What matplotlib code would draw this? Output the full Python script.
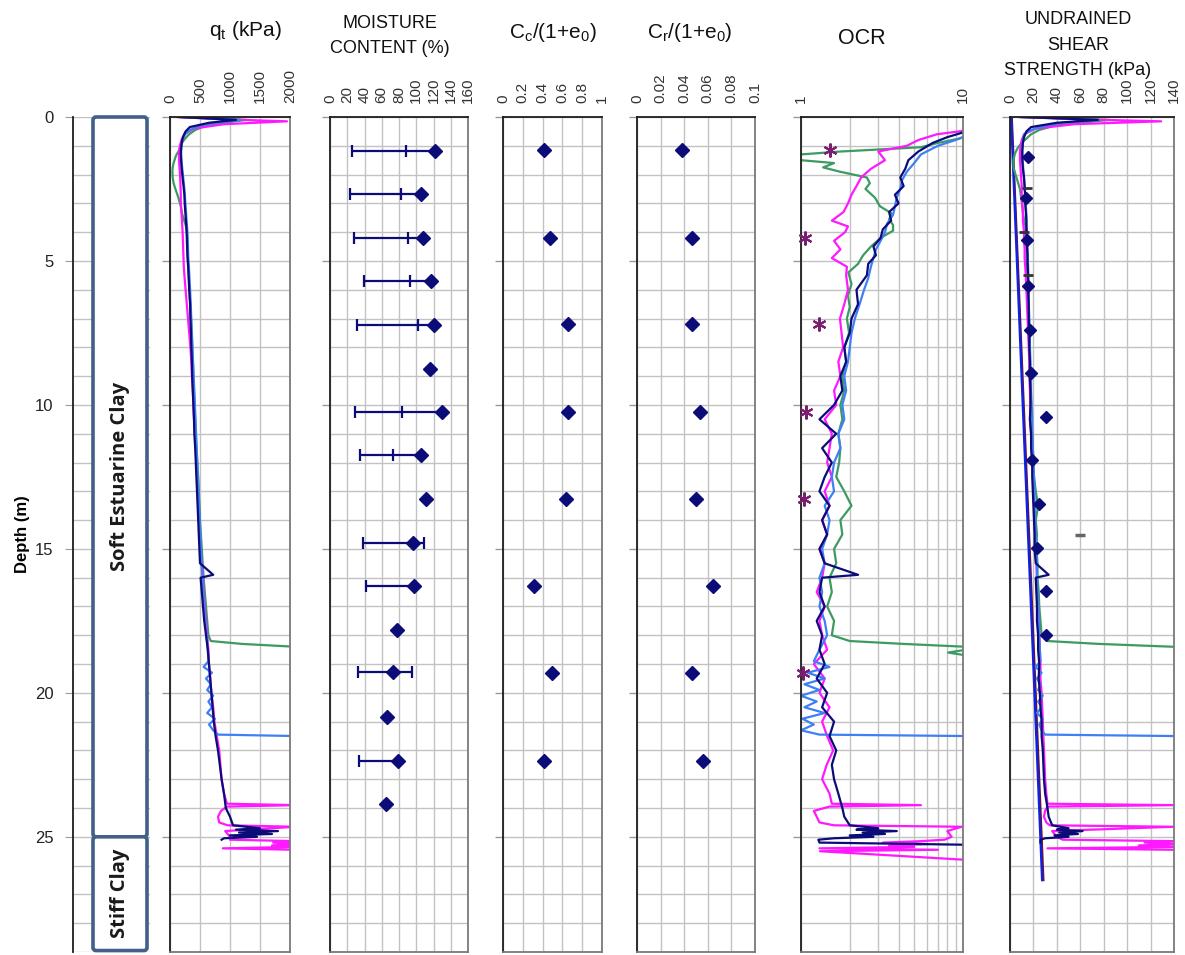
import numpy as np
import matplotlib.pyplot as plt
from matplotlib.patches import FancyBboxPatch
from matplotlib.ticker import MultipleLocator, FixedLocator, NullFormatter

plt.rcParams['font.family'] = ['Liberation Sans', 'DejaVu Sans']
nan = np.nan

# ---------------- CPT soundings (depth m, qt kPa, OCR, Su kPa) ----------------
depth_a = [0.0, 0.1, 0.2, 0.35, 0.5, 0.7, 0.9, 1.2, 1.5, 1.8,
           2.1, 2.4, 2.7, 3.0, 3.3, 3.6, 3.9, 4.2, 4.5, 4.8,
           5.1, 5.5, 6.0, 6.5, 7.0, 7.5, 8.0, 8.5, 9.0, 9.5,
           10.0, 10.5, 11.0, 11.5, 12.0, 12.5, 13.0, 13.5, 14.0, 14.5,
           15.0, 15.5, 15.9, 16.0, 16.5, 17.0, 17.5, 18.0, 18.5, 19.0,
           19.5, 20.0, 20.5, 21.0, 21.5, 22.0, 22.5, 23.0, 23.5, 24.0,
           24.3, 24.6, 24.7, 24.75, 24.8, 24.85, 24.9, 24.95, 25.0, 25.05,
           25.1, 25.2, 25.28]
qt_a = [150, 1100, 650, 330, 260, 215, 195, 180, 185, 195,
        210, 225, 240, 245, 255, 265, 275, 280, 285, 290,
        300, 310, 320, 335, 340, 350, 355, 365, 370, 380,
        390, 400, 405, 420, 430, 440, 450, 460, 470, 480,
        490, 500, 720, 510, 530, 550, 570, 600, 630, 650,
        670, 690, 710, 730, 760, 800, 830, 860, 900, 930,
        1000, 1050, 1500, 1100, 1800, 1150, 1700, 1000, 1450, 900,
        860, nan, nan]
ocr_a = [30, 30, 20, 14, 10.5, 8.0, 6.5, 5.3, 4.6, 4.4,
         4.1, 4.3, 3.8, 4.0, 3.5, 3.6, 3.2, 3.1, 2.8, 2.9,
         2.6, 2.55, 2.2, 2.25, 2.05, 2.0, 1.85, 1.9, 1.75, 1.8,
         1.6, 1.3, 1.65, 1.35, 1.55, 1.4, 1.3, 1.5, 1.35, 1.45,
         1.3, 1.4, 2.25, 1.35, 1.3, 1.4, 1.25, 1.35, 1.3, 1.4,
         1.25, 1.45, 1.35, 1.6, 1.5, 1.65, 1.55, 1.6, 1.7, 1.8,
         1.85, 2.0, 3.0, 2.2, 3.9, 2.4, 3.3, 2.0, 2.8, 1.6,
         1.28, 1.3, 12]
su_a = [10, 75, 40, 18, 14, 12, 11, 10.5, 10.5, 11,
        12, 12.5, 13, 13, 13.5, 14, 14, 14.5, 14.5, 15,
        15, 15.5, 15.5, 16, 16, 16.5, 16.5, 17, 17, 17.5,
        17.5, 17, 18, 18, 19, 19, 19.5, 20, 20.5, 21,
        21, 22, 33, 22, 22.5, 23, 23, 24, 24, 25,
        24.5, 25.5, 26, 27, 27, 28, 28.5, 29, 30, 32,
        33, 36, 50, 40, 62, 42, 58, 38, 50, 30,
        26, 26, nan]

depth_b = [0.0, 0.08, 0.15, 0.25, 0.4, 0.6, 0.8, 1.0, 1.2, 1.5,
           1.8, 2.1, 2.4, 2.7, 3.0, 3.3, 3.6, 3.8, 4.0, 4.3,
           4.6, 4.9, 5.2, 5.5, 6.0, 6.5, 7.0, 7.5, 8.0, 8.5,
           9.0, 9.5, 10.0, 10.5, 11.0, 11.5, 12.0, 12.5, 13.0, 13.5,
           14.0, 14.5, 15.0, 15.5, 16.0, 16.5, 17.0, 17.5, 18.0, 18.5,
           19.0, 19.5, 20.0, 20.5, 21.0, 21.5, 22.0, 22.5, 23.0, 23.5,
           23.85, 23.9, 23.95, 24.1, 24.3, 24.5, 24.6, 24.65, 24.8, 25.0,
           25.1, 25.15, 25.2, 25.25, 25.3, 25.35, 25.4, 25.45, 25.5, 25.8]
qt_b = [120, 900, 1950, 900, 400, 240, 190, 165, 150, 150,
        160, 170, 175, 180, 180, 190, 200, 205, 210, 215,
        220, 225, 230, 240, 260, 280, 300, 320, 340, 355,
        365, 380, 390, 400, 420, 430, 440, 450, 465, 475,
        490, 500, 510, 530, 550, 560, 580, 600, 620, 640,
        650, 670, 690, 720, 740, 780, 820, 840, 860, 900,
        950, 2100, 950, 850, 800, 820, 960, 2100, 920, 1000,
        1000, 2100, 1720, 2100, 1700, 2100, 880, 2100, nan, nan]
ocr_b = [30, 30, 30, 20, 13, 6.9, 5.3, 4.5, 3.0, 3.3,
         2.7, 2.35, 2.2, 2.05, 1.95, 1.83, 1.55, 1.95, 1.87, 1.6,
         1.75, 1.55, 1.92, 1.9, 1.95, 1.85, 1.74, 1.78, 1.82, 1.7,
         1.75, 1.6, 1.65, 1.4, 1.55, 1.5, 1.45, 1.55, 1.4, 1.5,
         1.35, 1.45, 1.3, 1.4, 1.35, 1.25, 1.4, 1.3, 1.35, 1.45,
         1.2, 1.4, 1.3, 1.5, 1.35, 1.45, 1.58, 1.44, 1.35, 1.5,
         1.55, 5.5, 1.5, 1.2, 1.25, 1.3, 1.6, 9.8, 8.0, 8.5,
         7.7, 5.5, 3.2, 6.0, 3.5, 5.0, 1.3, 7.0, 1.31, 10.5]
su_b = [8, 60, 129, 55, 22, 12, 10, 9, 8.5, 8.5,
        9, 9.5, 10, 10, 10.5, 11, 11, 11.5, 12, 12,
        12.5, 12.5, 13, 13.5, 14, 14.5, 15, 15.5, 16, 16.5,
        16.5, 17, 17.5, 17, 18, 18.5, 19, 19.5, 20, 20.5,
        21, 21.5, 22, 22.5, 23, 23, 24, 24.5, 25, 25.5,
        26, 26, 27, 27.5, 28, 28.5, 29, 29.5, 30, 31,
        32, 140, 32, 30, 29, 31, 34, 140, 36, 40,
        45, 140, 115, 140, 110, 140, 32, 140, nan, nan]

depth_c = [0.0, 0.05, 0.1, 0.2, 0.3, 0.45, 0.6, 0.75, 0.9, 1.05,
           1.2, 1.3, 1.4, 1.5, 1.6, 1.75, 1.9, 2.1, 2.3, 2.5,
           2.8, 3.1, 3.35, 3.55, 3.75, 3.95, 4.2, 4.5, 4.8, 5.1,
           5.4, 5.8, 6.2, 6.6, 7.0, 7.5, 8.0, 8.5, 9.0, 9.5,
           10.0, 10.5, 11.0, 11.5, 12.0, 12.5, 13.0, 13.5, 14.0, 14.5,
           15.0, 15.5, 16.0, 16.5, 17.0, 17.5, 18.0, 18.2, 18.3, 18.4,
           18.5, 18.6, 18.7]
qt_c = [150, 800, 1280, 900, 600, 420, 320, 250, 200, 170,
        140, 110, 90, 75, 60, 45, 40, 45, 60, 90,
        140, 180, 200, 230, 260, 280, 290, 300, 295, 300,
        310, 320, 330, 340, 350, 360, 370, 380, 390, 400,
        410, 420, 430, 440, 455, 470, 480, 490, 500, 515,
        530, 545, 560, 580, 600, 620, 640, 680, 1200, 2100,
        nan, nan, nan]
ocr_c = [30, 30, 30, 25, 18, 13, 11, 9.5, 7.0, 5.5,
         1.74, 1.0, 0.95, 1.0, 1.6, 1.37, 1.74, 2.55, 2.66, 2.5,
         2.86, 3.07, 3.63, 3.5, 3.7, 3.7, 3.1, 2.7, 2.42, 2.25,
         1.96, 2.05, 1.95, 2.0, 1.92, 1.98, 1.85, 1.9, 1.8, 1.85,
         1.75, 1.8, 1.7, 1.75, 1.72, 1.65, 1.85, 2.05, 1.75, 1.8,
         1.6, 1.65, 1.5, 1.55, 1.45, 1.6, 1.55, 2.0, 4.3, 10.5,
         10.5, 8.1, 10.5]
su_c = [8, 50, 85, 60, 38, 25, 18, 14, 10, 7,
        5, 4, 3.5, 3, 3, 3, 4, 5.5, 7, 8.5,
        9.5, 10.5, 11, 12, 13, 13.5, 14, 14, 14, 14.5,
        14.5, 15, 15, 15.5, 15.5, 16, 16.5, 17, 17, 17.5,
        18, 18.5, 19, 19.5, 20, 20.5, 22, 24, 22, 23,
        22.5, 23.5, 23.5, 24.5, 25, 26, 27, 32, 76, 140,
        nan, nan, nan]

depth_d = [0.0, 0.05, 0.1, 0.2, 0.3, 0.45, 0.6, 0.8, 1.0, 1.3,
           1.6, 1.9, 2.2, 2.5, 2.8, 3.1, 3.4, 3.7, 4.0, 4.3,
           4.6, 4.9, 5.2, 5.6, 6.0, 6.5, 7.0, 7.5, 8.0, 8.5,
           9.0, 9.5, 10.0, 10.5, 11.0, 11.5, 12.0, 12.5, 13.0, 13.5,
           14.0, 14.5, 15.0, 15.5, 16.0, 16.5, 17.0, 17.5, 18.0, 18.5,
           18.9, 19.1, 19.3, 19.5, 19.7, 19.9, 20.1, 20.3, 20.5, 20.7,
           20.9, 21.1, 21.3, 21.45, 21.5, 21.55]
qt_d = [180, 700, 1170, 800, 500, 330, 250, 210, 190, 185,
        195, 210, 225, 240, 250, 260, 270, 280, 290, 295,
        300, 305, 315, 325, 335, 345, 355, 365, 375, 385,
        395, 405, 415, 425, 435, 445, 455, 465, 475, 485,
        495, 505, 515, 525, 540, 555, 570, 590, 610, 630,
        640, 560, 700, 600, 680, 620, 720, 640, 700, 620,
        750, 650, 720, 800, 2100, nan]
ocr_d = [30, 30, 30, 25, 18, 13, 11, 9.0, 7.0, 5.5,
         5.0, 4.5, 4.2, 4.1, 3.9, 3.8, 3.7, 3.4, 3.3, 3.1,
         2.9, 2.8, 2.7, 2.6, 2.45, 2.3, 2.15, 2.05, 2.0, 1.95,
         1.85, 1.9, 1.8, 1.85, 1.7, 1.75, 1.6, 1.55, 1.6, 1.4,
         1.5, 1.45, 1.35, 1.4, 1.3, 1.35, 1.3, 1.4, 1.45, 1.3,
         1.2, 1.5, 1.1, 1.4, 1.05, 1.3, 1.0, 1.25, 1.05, 1.4,
         1.02, 1.2, 1.0, 1.3, 10.5, 10.5]
su_d = [10, 50, 76, 45, 31, 18, 12, 11, 10.5, 10.5,
        11, 11.5, 12, 12.5, 13, 13.5, 14, 14, 14.5, 14.5,
        15, 15, 15.5, 15.5, 16, 16, 16.5, 17, 17, 17.5,
        18, 18, 18.5, 19, 19, 19.5, 20, 20.5, 21, 21,
        21.5, 22, 22.5, 23, 23, 23.5, 24, 24.5, 25, 25.5,
        26, 22, 27, 23, 26, 24, 28, 24, 27, 23,
        28, 25, 27, 30, 140, nan]

# ---------------- laboratory results ----------------
mc_depth = [1.17, 2.66, 4.2, 5.71, 7.22, 8.75, 10.26, 11.75,
            13.28, 14.79, 16.3, 17.8, 19.29, 20.85, 22.35, 23.86]
mc_w = [122, 106, 108, 117, 120, 116, 129.5, 105, 111, 96, 97, 78, 73, 66, 79, 65]
mc_pl = [26, 23, 28, 39, 31, nan, 29, 35, nan, 38, 42, nan, 33, nan, 34, nan]
mc_ll = [88, 82, 90, 93, 102, nan, 83, 73, nan, 109, nan, nan, 95, nan, nan, nan]

oed_depth = [1.15, 4.2, 7.2, 10.24, 13.27, 16.3, 19.32, 22.35]
cc_ratio = [0.41, 0.47, 0.66, 0.66, 0.64, 0.31, 0.49, 0.41]
cr_ratio = [0.038, 0.047, 0.047, 0.053, 0.050, 0.064, 0.047, 0.056]

ocr_lab_depth = [1.15, 4.2, 7.2, 10.24, 13.27, 19.3]
ocr_lab = [1.5, 1.06, 1.30, 1.08, 1.04, 1.03]

su_lab_depth = [1.38, 2.83, 4.28, 5.88, 7.39, 8.9, 10.41, 11.92, 13.45, 14.96, 16.47, 17.98]
su_lab = [15.0, 13.3, 14.1, 15.0, 17.0, 17.8, 31.1, 18.9, 24.6, 23.2, 31.1, 31.1]
vane_depth = [2.48, 4.0, 5.5]
vane_su = [14.1, 12.1, 15.0]
uu_depth = [14.5]
uu_su = [59.4]
trend_depth = [0.0, 26.5]
trend_low = [1.0, 27.5]
trend_high = [1.5, 28.5]

layer_names = ['Soft Estuarine Clay', 'Stiff Clay']
layer_top = [0.0, 25.0]
layer_bottom = [25.0, 28.95]

# ---------------- figure ----------------
W, H = 1185, 955
fig = plt.figure(figsize=(W / 100, H / 100), dpi=100)
TOP, BOT = 117, 952

NAVY = '#0c0c78'
MAG = '#ff19ff'
GRN = '#3d9a60'
BLU = '#3f7ff5'
GRID = '#c2c2c2'


def add_panel(x0, x1):
    return fig.add_axes([x0 / W, (H - BOT) / H, (x1 - x0) / W, (BOT - TOP) / H])


def style(ax, xlim, ticks, labels, log=False):
    if log:
        ax.set_xscale('log')
    ax.set_xlim(xlim)
    ax.set_ylim(29, 0)
    ax.xaxis.tick_top()
    ax.set_xticks(ticks)
    ax.set_xticklabels(labels, rotation=90, fontsize=11, color='#333333')
    if log:
        ax.xaxis.set_minor_locator(FixedLocator([2, 3, 4, 5, 6, 7, 8, 9]))
        ax.xaxis.set_minor_formatter(NullFormatter())
        ax.grid(True, which='minor', axis='x', color=GRID, lw=1.0)
    ax.tick_params(axis='x', which='both', length=0, pad=10)
    ax.set_yticks([0, 5, 10, 15, 20, 25])
    ax.set_yticklabels([])
    ax.yaxis.set_minor_locator(MultipleLocator(1))
    ax.tick_params(axis='y', which='major', length=6, color='#9a9a9a', width=1)
    ax.tick_params(axis='y', which='minor', length=0)
    ax.grid(True, which='both', axis='y', color=GRID, lw=1.0)
    ax.grid(True, which='major', axis='x', color=GRID, lw=1.0)
    ax.set_axisbelow(True)
    for s in ['left', 'top']:
        ax.spines[s].set_color('#1e1e1e')
        ax.spines[s].set_linewidth(1.3)
    for s in ['right', 'bottom']:
        ax.spines[s].set_color('#7a7a7a')
        ax.spines[s].set_linewidth(1.3)


def traces(ax, which):
    sets = [(depth_c, GRN), (depth_b, MAG), (depth_d, BLU), (depth_a, NAVY)]
    vals = {'qt': [qt_c, qt_b, qt_d, qt_a],
            'ocr': [ocr_c, ocr_b, ocr_d, ocr_a],
            'su': [su_c, su_b, su_d, su_a]}[which]
    for (d, c), v in zip(sets, vals):
        ax.plot(v, d, color=c, lw=1.6)


# --- stratigraphy column ---
ax0 = add_panel(73, 150)
ax0.set_xlim(0, 77)
ax0.set_ylim(29, 0)
ax0.set_yticks([0, 5, 10, 15, 20, 25])
ax0.set_yticklabels(['0', '5', '10', '15', '20', '25'], fontsize=12, color='#222222')
ax0.yaxis.set_minor_locator(MultipleLocator(1))
ax0.tick_params(axis='y', which='major', length=6, color='#9a9a9a', pad=8)
ax0.tick_params(axis='y', which='minor', length=0)
ax0.set_xticks([])
ax0.grid(True, which='both', axis='y', color=GRID, lw=1.0)
ax0.set_axisbelow(True)
for s in ['top', 'right', 'bottom']:
    ax0.spines[s].set_visible(False)
ax0.spines['left'].set_color('#1e1e1e')
ax0.spines['left'].set_linewidth(1.3)
ax0.set_ylabel('Depth (m)', fontsize=12, fontweight='bold')
ax0.yaxis.set_label_coords(-0.56, 0.5)
px_per_m = (BOT - TOP) / 29.0
for name, t, b in zip(layer_names, layer_top, layer_bottom):
    box = FancyBboxPatch((20, t), 54, b - t,
                         boxstyle='round,pad=0,rounding_size=3',
                         mutation_aspect=1 / px_per_m,
                         fc='white', ec='#41608a', lw=2.6, zorder=3, clip_on=False)
    ax0.add_patch(box)
    ax0.text(47, (t + b) / 2, name, rotation=90, ha='center', va='center',
             fontsize=14.5, fontweight='bold', family=['Open Sans', 'DejaVu Sans'],
             color='#1a1a1a', zorder=4)

# --- qt ---
ax1 = add_panel(170, 290)
style(ax1, (0, 2000), [0, 500, 1000, 1500, 2000], ['0', '500', '1000', '1500', '2000'])
traces(ax1, 'qt')

# --- moisture content ---
ax2 = add_panel(330, 468)
mc_ticks = [0, 20, 40, 60, 80, 100, 120, 140, 160]
style(ax2, (0, 160), mc_ticks, [str(v) for v in mc_ticks])
pl = np.array(mc_pl, float)
ll = np.array(mc_ll, float)
w = np.array(mc_w, float)
dm = np.array(mc_depth, float)
has = ~np.isnan(pl)
right = np.where(np.isnan(ll), w, np.fmax(ll, w))
ax2.hlines(dm[has], pl[has], right[has], color=NAVY, lw=1.6)
ax2.plot(pl[has], dm[has], ls='none', marker='|', ms=9, mew=1.6, color=NAVY)
ax2.plot(ll, dm, ls='none', marker='|', ms=9, mew=1.6, color=NAVY)
ax2.plot(w, dm, ls='none', marker='D', ms=7.5, color=NAVY)

# --- Cc/(1+e0) ---
ax3 = add_panel(503, 602)
style(ax3, (0, 1), [0, 0.2, 0.4, 0.6, 0.8, 1], ['0', '0.2', '0.4', '0.6', '0.8', '1'])
ax3.plot(cc_ratio, oed_depth, ls='none', marker='D', ms=7.5, color=NAVY)

# --- Cr/(1+e0) ---
ax4 = add_panel(637, 755)
style(ax4, (0, 0.1), [0, 0.02, 0.04, 0.06, 0.08, 0.1],
      ['0', '0.02', '0.04', '0.06', '0.08', '0.1'])
ax4.plot(cr_ratio, oed_depth, ls='none', marker='D', ms=7.5, color=NAVY)

# --- OCR ---
ax5 = add_panel(801, 963)
style(ax5, (1, 10), [1, 10], ['1', '10'], log=True)
traces(ax5, 'ocr')
ax5.plot(ocr_lab, ocr_lab_depth, ls='none', marker=(6, 2, 0), ms=10, mew=1.5,
         color='#7a1f70', clip_on=False, zorder=5)

# --- undrained shear strength ---
ax6 = add_panel(1010, 1174)
su_ticks = [0, 20, 40, 60, 80, 100, 120, 140]
style(ax6, (0, 140), su_ticks, [str(v) for v in su_ticks])
ax6.plot(trend_high, trend_depth, color='#7a1010', lw=1.6)
ax6.plot(trend_low, trend_depth, color='#1020e0', lw=1.8)
traces(ax6, 'su')
ax6.plot(su_lab, su_lab_depth, ls='none', marker='D', ms=6, color=NAVY, zorder=5)
ax6.plot(vane_su, vane_depth, ls='none', marker='_', ms=7, mew=2, color='#333333', zorder=5)
ax6.plot(uu_su, uu_depth, ls='none', marker='_', ms=7, mew=2.5, color='#666666', zorder=5)

# --- headings ---
def head(x, y, s, size, ls=1.35):
    fig.text(x / W, 1 - y / H, s, ha='center', va='center', fontsize=size,
             color='#111111', linespacing=ls)

head(245, 31, r'q$_\mathregular{t}$ (kPa)', 15)
head(390, 36, 'MOISTURE\nCONTENT (%)', 13, 1.65)
head(553, 33, r'C$_\mathregular{c}$/(1+e$_\mathregular{0}$)', 15)
head(690, 33, r'C$_\mathregular{r}$/(1+e$_\mathregular{0}$)', 15)
head(862, 38, 'OCR', 15.5)
head(1078, 45, 'UNDRAINED\nSHEAR\nSTRENGTH (kPa)', 13, 1.65)

fig.savefig('out.png', dpi=100)
